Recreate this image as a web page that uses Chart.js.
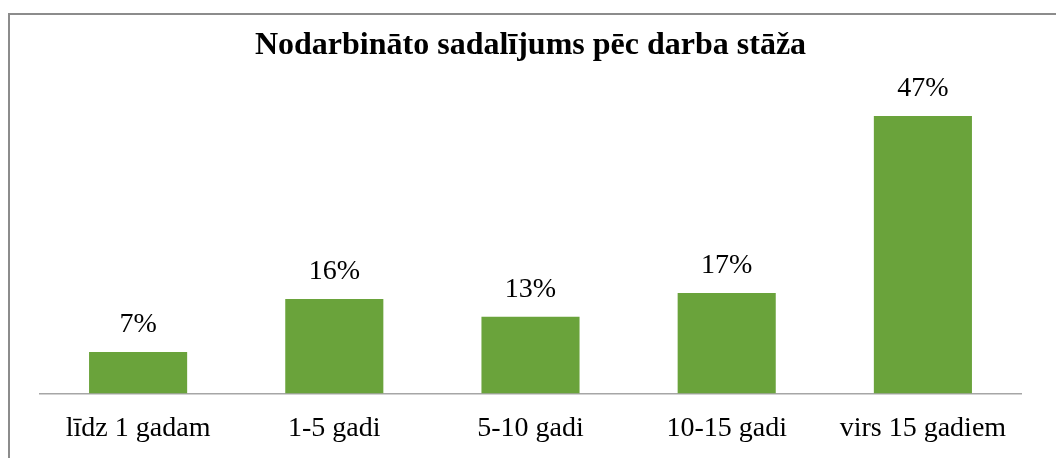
<!DOCTYPE html>
<html>
<head>
<meta charset="utf-8">
<script src="https://cdn.jsdelivr.net/npm/chart.js@4/dist/chart.umd.min.js"></script>
<style>
  body { margin: 0; background: #fff; overflow: hidden; }
  #wrap { position: relative; width: 1056px; height: 458px; overflow: hidden; }
  #frame { position: absolute; left: 8px; top: 13px; width: 1100px; height: 500px; border: 2px solid #8c8c8c; box-sizing: border-box; }
  canvas { position: absolute; left: 0; top: 0; }
</style>
</head>
<body>
<div id="wrap">
  <div id="frame"></div>
  <canvas id="stazChart" width="1056" height="472"></canvas>
</div>
<script>
//categories and values (percent of employees)
const categories = ['līdz 1 gadam', '1-5 gadi', '5-10 gadi', '10-15 gadi', 'virs 15 gadiem'];
const shares = [7, 16, 13, 17, 47];

//draw the percent labels above each bar
const valueLabels = {
    id: 'valueLabels',
    afterDatasetsDraw(chart) {
        const ctx = chart.ctx;
        const meta = chart.getDatasetMeta(0);
        ctx.save();
        ctx.font = '28px "Liberation Serif"';
        ctx.fillStyle = '#000';
        ctx.textAlign = 'center';
        ctx.textBaseline = 'middle';
        meta.data.forEach((bar, i) => {
            ctx.fillText(shares[i] + '%', bar.x, bar.y - 27);
        });
        ctx.restore();
    }
};

const ctx = document.getElementById('stazChart').getContext('2d');
const stazChart = new Chart(ctx, {
    type: 'bar',
    data: {
        labels: categories,
        datasets: [{
            data: shares,
            backgroundColor: '#6aa33b',
            categoryPercentage: 1,
            barPercentage: 0.5
        }]
    },
    options: {
        responsive: false,
        animation: false,
        layout: { padding: { left: 40, right: 35, bottom: 9, top: 0 } },
        plugins: {
            legend: { display: false },
            tooltip: { enabled: false },
            title: {
                display: true,
                text: 'Nodarbināto sadalījums pēc darba stāža',
                color: '#000',
                font: { family: '"Liberation Serif"', size: 32, weight: 'bold' },
                padding: { top: 27, bottom: 33 }
            }
        },
        scales: {
            x: {
                grid: { display: false, drawTicks: false },
                border: { display: true, color: '#a6a6a6', width: 1.5 },
                ticks: {
                    color: '#000',
                    padding: 18,
                    font: { family: '"Liberation Serif"', size: 28 }
                }
            },
            y: {
                display: false,
                min: 0,
                max: 50
            }
        }
    },
    plugins: [valueLabels]
});
</script>
</body>
</html>
